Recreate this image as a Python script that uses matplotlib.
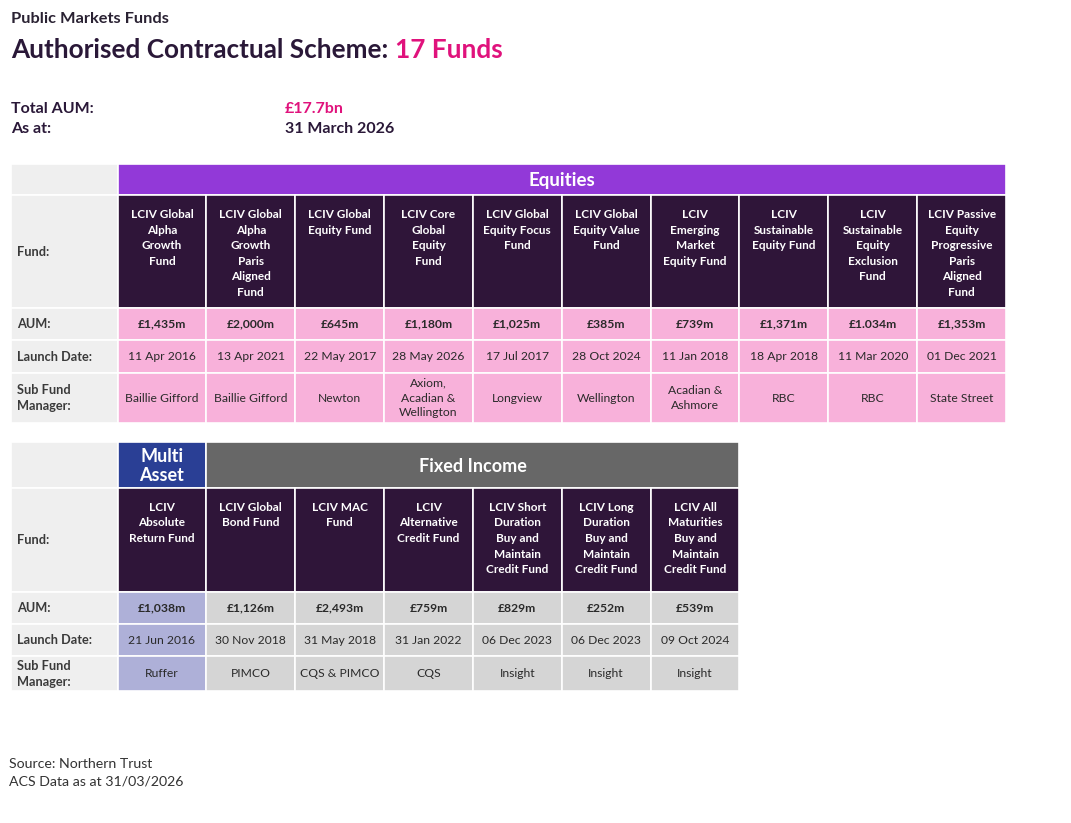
import matplotlib.pyplot as plt
from matplotlib.patches import Rectangle

plt.rcParams['font.family'] = ['Lato', 'DejaVu Sans']

# ---- data ----
eq_funds = ['LCIV Global\nAlpha\nGrowth\nFund', 'LCIV Global\nAlpha\nGrowth\nParis\nAligned\nFund',
            'LCIV Global\nEquity Fund', 'LCIV Core\nGlobal\nEquity\nFund', 'LCIV Global\nEquity Focus\nFund',
            'LCIV Global\nEquity Value\nFund', 'LCIV\nEmerging\nMarket\nEquity Fund',
            'LCIV\nSustainable\nEquity Fund', 'LCIV\nSustainable\nEquity\nExclusion\nFund',
            'LCIV Passive\nEquity\nProgressive\nParis\nAligned\nFund']
eq_aum = ['£1,435m', '£2,000m', '£645m', '£1,180m', '£1,025m', '£385m', '£739m', '£1,371m', '£1.034m', '£1,353m']
eq_launch = ['11 Apr 2016', '13 Apr 2021', '22 May 2017', '28 May 2026', '17 Jul 2017',
             '28 Oct 2024', '11 Jan 2018', '18 Apr 2018', '11 Mar 2020', '01 Dec 2021']
eq_manager = ['Baillie Gifford', 'Baillie Gifford', 'Newton', 'Axiom,\nAcadian &\nWellington', 'Longview',
              'Wellington', 'Acadian &\nAshmore', 'RBC', 'RBC', 'State Street']

ma_funds = ['LCIV\nAbsolute\nReturn Fund']
ma_aum = ['£1,038m']
ma_launch = ['21 Jun 2016']
ma_manager = ['Ruffer']

fi_funds = ['LCIV Global\nBond Fund', 'LCIV MAC\nFund', 'LCIV\nAlternative\nCredit Fund',
            'LCIV Short\nDuration\nBuy and\nMaintain\nCredit Fund', 'LCIV Long\nDuration\nBuy and\nMaintain\nCredit Fund',
            'LCIV All\nMaturities\nBuy and\nMaintain\nCredit Fund']
fi_aum = ['£1,126m', '£2,493m', '£759m', '£829m', '£252m', '£539m']
fi_launch = ['30 Nov 2018', '31 May 2018', '31 Jan 2022', '06 Dec 2023', '06 Dec 2023', '09 Oct 2024']
fi_manager = ['PIMCO', 'CQS & PIMCO', 'CQS', 'Insight', 'Insight', 'Insight']

row_labels = ['Fund:', 'AUM:', 'Launch Date:', 'Sub Fund\nManager:']

# ---- colours ----
DARK = '#2f1539'
PURPLE = '#9239d8'
PINK = '#f8b1da'
LABEL_BG = '#efefef'
BLUE = '#2a3f95'
LAVENDER = '#aeb0d8'
GREY_HDR = '#676767'
GREY = '#d5d5d5'
MAGENTA = '#e0127c'
TXT = '#2a2a2a'

W, H = 1071, 823
fig = plt.figure(figsize=(W / 100, H / 100), dpi=100)
ax = fig.add_axes([0, 0, 1, 1])
ax.set_xlim(0, W)
ax.set_ylim(H, 0)
ax.axis('off')


def cell(x0, y0, x1, y1, color):
    ax.add_patch(Rectangle((x0, y0), x1 - x0, y1 - y0, facecolor=color,
                           edgecolor='white', linewidth=1.2))


# ---- titles ----
ax.text(11, 19, 'Public Markets Funds', fontsize=11.8, fontweight='bold', color='#2a2233', va='center')
t = ax.text(11, 50, 'Authorised Contractual Scheme: ', fontsize=18.8, fontweight='bold',
            color='#2a1838', va='center')
ax.annotate('17 Funds', xy=(1, 0.5), xycoords=t, fontsize=18.8, fontweight='bold',
            color=MAGENTA, va='center')
ax.text(11, 109, 'Total AUM:', fontsize=11.5, fontweight='bold', color='#2a1838', va='center')
ax.text(11, 129, 'As at:', fontsize=11.5, fontweight='bold', color='#2a1838', va='center')
ax.text(285, 109, '£17.7bn', fontsize=11.5, fontweight='bold', color=MAGENTA, va='center')
ax.text(285, 129, '31 March 2026', fontsize=11.5, fontweight='bold', color='#2a1838', va='center')

ax.text(9, 764, 'Source: Northern Trust', fontsize=10.2, color='#333333', va='center')
ax.text(9, 781, 'ACS Data as at 31/03/2026', fontsize=10.2, color='#333333', va='center')

LX0, LX1 = 11, 117.5
CW = 88.85


def draw_table(y_rows, groups, hdr_y0):
    # y_rows: edges [hdr_end, fund_end, aum_end, launch_end, mgr_end]
    cell(LX0, hdr_y0, LX1, y_rows[0], LABEL_BG)
    for k, lab in enumerate(row_labels):
        cell(LX0, y_rows[k], LX1, y_rows[k + 1], LABEL_BG)
        ax.text(LX0 + 6, (y_rows[k] + y_rows[k + 1]) / 2, lab, fontsize=9.2, fontweight='bold',
                color='#3a3a3a', va='center', ha='left', linespacing=1.4)
    col = 0
    for name, hdr_col, body_col, funds, aum, launch, mgr, hsize in groups:
        n = len(funds)
        gx0 = LX1 + col * CW
        gx1 = gx0 + n * CW
        cell(gx0, hdr_y0, gx1, y_rows[0], hdr_col)
        ax.text((gx0 + gx1) / 2, (hdr_y0 + y_rows[0]) / 2 + 1, name, fontsize=hsize,
                fontweight='bold', color='white', ha='center', va='center', linespacing=1.2)
        for i in range(n):
            x0 = gx0 + i * CW
            xc = x0 + CW / 2
            cell(x0, y_rows[0], x0 + CW, y_rows[1], DARK)
            ax.text(xc, y_rows[0] + 14, funds[i], fontsize=8.5, fontweight='bold', color='white',
                    ha='center', va='top', linespacing=1.5)
            cell(x0, y_rows[1], x0 + CW, y_rows[2], body_col)
            ax.text(xc, (y_rows[1] + y_rows[2]) / 2, aum[i], fontsize=8.7, fontweight='bold',
                    color=TXT, ha='center', va='center')
            cell(x0, y_rows[2], x0 + CW, y_rows[3], body_col)
            ax.text(xc, (y_rows[2] + y_rows[3]) / 2, launch[i], fontsize=8.7,
                    color=TXT, ha='center', va='center')
            cell(x0, y_rows[3], x0 + CW, y_rows[4], body_col)
            ax.text(xc, (y_rows[3] + y_rows[4]) / 2, mgr[i], fontsize=8.7,
                    color=TXT, ha='center', va='center', linespacing=1.4)
        col += n


draw_table([195, 308, 340, 373, 423],
           [('Equities', PURPLE, PINK, eq_funds, eq_aum, eq_launch, eq_manager, 13.5)], 164)

draw_table([488, 592, 624, 656, 691],
           [('Multi\nAsset', BLUE, LAVENDER, ma_funds, ma_aum, ma_launch, ma_manager, 13),
            ('Fixed Income', GREY_HDR, GREY, fi_funds, fi_aum, fi_launch, fi_manager, 13)], 442)

fig.savefig('out.png', dpi=100, facecolor='white')
